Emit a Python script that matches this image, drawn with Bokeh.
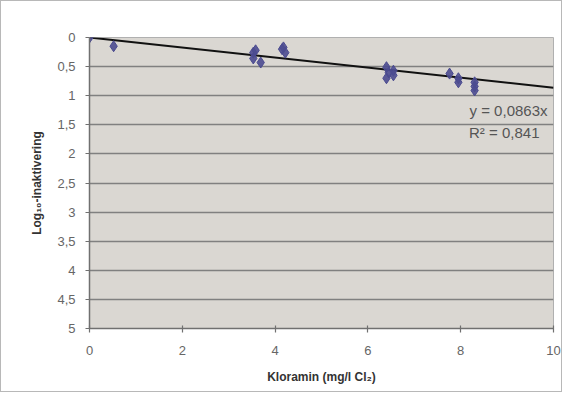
from bokeh.plotting import figure
from bokeh.models import Range1d, FixedTicker, CustomJSTickFormatter, Label, ColumnDataSource
from bokeh.embed import file_html
from bokeh.resources import INLINE

# Data
kloramin = [0.0, 0.52, 3.53, 3.53, 3.58, 3.69, 4.18, 4.22, 4.15,
            6.40, 6.40, 6.55, 6.55, 6.45, 7.76, 7.95, 7.95, 8.30, 8.30, 8.30]
log_inakt = [0.0, 0.15, 0.26, 0.36, 0.22, 0.43, 0.17, 0.26, 0.20,
             0.51, 0.70, 0.57, 0.65, 0.60, 0.62, 0.70, 0.77, 0.77, 0.84, 0.91]
slope = 0.0863
r2 = 0.841
trend_x = [0, 10]
trend_y = [slope * v for v in trend_x]
y_ticks = [0, 0.5, 1, 1.5, 2, 2.5, 3, 3.5, 4, 4.5, 5]
x_ticks = [0, 2, 4, 6, 8, 10]

p = figure(width=562, height=392, output_backend="svg", toolbar_location=None,
           x_range=Range1d(0, 10), y_range=Range1d(5, 0),
           min_border_left=88, min_border_right=10, min_border_top=36, min_border_bottom=65,
           background_fill_color="#dad7d2", border_fill_color="white")
p.styles = {"border": "1px solid #b8b8b8"}
p.outline_line_color = "#b0b0b0"
p.outline_line_width = 1

# grid
p.xgrid.visible = False
p.ygrid.ticker = FixedTicker(ticks=y_ticks)
p.ygrid.grid_line_color = "#808080"
p.ygrid.grid_line_width = 1.6

fmt = CustomJSTickFormatter(code="return tick.toString().replace('.', ',');")

p.yaxis.ticker = FixedTicker(ticks=y_ticks)
p.yaxis.formatter = fmt
p.xaxis.ticker = FixedTicker(ticks=x_ticks)
p.xaxis.formatter = fmt
for ax in (p.xaxis, p.yaxis):
    ax.axis_line_color = "#707070"
    ax.axis_line_width = 1.5
    ax.major_tick_line_color = "#707070"
    ax.major_tick_line_width = 1.2
    ax.major_tick_out = 4
    ax.major_tick_in = 0
    ax.minor_tick_line_color = None
    ax.major_label_text_font = "Liberation Sans"
    ax.major_label_text_font_size = "13px"
    ax.major_label_text_color = "#666666"
    ax.axis_label_text_font = "Liberation Sans"
    ax.axis_label_text_font_style = "bold"
    ax.axis_label_text_font_size = "12px"
    ax.axis_label_text_color = "#333333"
p.xaxis.major_tick_in = 3
p.yaxis.major_label_standoff = 10
p.xaxis.major_label_standoff = 13
p.yaxis.axis_label = "Log₁₀-inaktivering"
p.xaxis.axis_label = "Kloramin (mg/l Cl₂)"
p.yaxis.axis_label_standoff = 10
p.xaxis.axis_label_standoff = 12

# trend line
p.line(trend_x, trend_y, line_color="#111111", line_width=2)

# points
src = ColumnDataSource(dict(x=kloramin, y=log_inakt))
p.scatter("x", "y", source=src, marker="diamond", size=11,
          fill_color="#4b4b90", line_color="#4b4b90", fill_alpha=0.9)

eq = Label(x=10, y=1.25, x_offset=-6, text=f"y = {slope}x".replace(".", ","),
           text_align="right", text_baseline="middle", text_font="Liberation Sans",
           text_font_size="15px", text_color="#555555")
rr = Label(x=10, y=1.63, x_offset=-14, text=f"R² = {r2}".replace(".", ","),
           text_align="right", text_baseline="middle", text_font="Liberation Sans",
           text_font_size="15px", text_color="#555555")
p.add_layout(eq)
p.add_layout(rr)

open("out.html", "w").write(file_html(p, INLINE))
